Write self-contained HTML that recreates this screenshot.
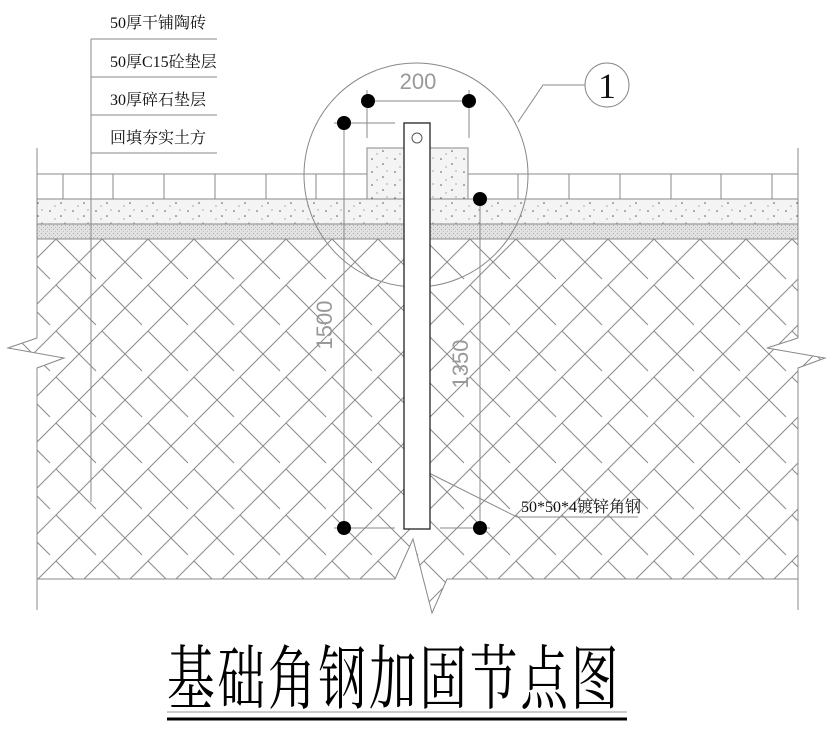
<!DOCTYPE html>
<html><head><meta charset="utf-8"><style>html,body{margin:0;padding:0;background:#fff}svg{display:block}</style></head>
<body>
<svg width="833" height="734" viewBox="0 0 833 734" xmlns="http://www.w3.org/2000/svg">
<defs>
<pattern id="h" width="46" height="46" patternUnits="userSpaceOnUse" patternTransform="translate(10,239)">
<path d="M0 46 L46 0 M-23 23 L23 -23 M23 69 L69 23" stroke="#8a8a8a" stroke-width="1" fill="none"/>
<path d="M0 0 L30 30 M23 -23 L46 0 M-23 23 L0 46 M23 23 L40 40" stroke="#8a8a8a" stroke-width="1" fill="none"/>
</pattern>
<pattern id="c" width="23" height="13" patternUnits="userSpaceOnUse">
<rect width="23" height="13" fill="#f4f4f4"/>
<circle cx="4" cy="3" r="0.8" fill="#555"/><circle cx="15" cy="8" r="0.8" fill="#555"/><circle cx="9" cy="11" r="0.6" fill="#777"/><circle cx="19" cy="2" r="0.6" fill="#777"/>
</pattern>
<pattern id="g" width="4" height="4" patternUnits="userSpaceOnUse">
<rect width="4" height="4" fill="#e2e2e2"/><rect x="1" y="1" width="1" height="1" fill="#aaa"/><rect x="3" y="3" width="1" height="1" fill="#bbb"/>
</pattern>
</defs>
<g stroke="#888" fill="none" stroke-width="1">
<polygon points="37,239 798,239 798,338 767,348 825,358 798,368 798,579 447,579 432,613 413,539 395,579 37,579 37,368 64,358 8,348 37,338" fill="url(#h)"/>
<rect x="37" y="199" width="761" height="25" fill="url(#c)"/>
<rect x="37" y="224" width="761" height="15" fill="url(#g)"/>
<line x1="37" y1="174" x2="367" y2="174"/><line x1="468" y1="174" x2="798" y2="174"/>
<line x1="37" y1="148" x2="37" y2="338"/><line x1="37" y1="368" x2="37" y2="610"/>
<line x1="798" y1="148" x2="798" y2="338"/><line x1="798" y1="368" x2="798" y2="610"/>
<path d="M63 174V199M113 174V199M164 174V199M215 174V199M266 174V199M316 174V199M518 174V199M569 174V199M620 174V199M671 174V199M721 174V199M772 174V199"/>
<rect x="367" y="148" width="101" height="51" fill="url(#c)"/>
<line x1="91" y1="39" x2="91" y2="502"/>
<path d="M91 39H217M91 77H217M91 115H217M91 153H217"/>
<circle cx="416" cy="175" r="112"/>
<polyline points="518,122 543,85 585,85"/>
<circle cx="607" cy="85" r="22"/>
<line x1="368" y1="101" x2="469" y2="101"/>
<line x1="367" y1="90" x2="367" y2="138"/><line x1="469" y1="90" x2="469" y2="138"/>
<line x1="334" y1="123" x2="395" y2="123"/>
<line x1="344" y1="123" x2="344" y2="528"/>
<line x1="334" y1="528" x2="395" y2="528"/>
<line x1="480" y1="199" x2="480" y2="528"/>
<line x1="440" y1="528" x2="490" y2="528"/>
<polyline points="413,465 517,517 638,517"/>
</g>
<rect x="404" y="123" width="26" height="406" fill="#fff" stroke="#222" stroke-width="1.3"/>
<circle cx="417" cy="138" r="5" fill="none" stroke="#555"/>
<g fill="#000">
<circle cx="368" cy="101" r="7"/><circle cx="469" cy="101" r="7"/><circle cx="344" cy="123" r="7"/><circle cx="480" cy="199" r="7"/><circle cx="344" cy="528" r="7"/><circle cx="480" cy="528" r="7"/>
</g>
<g font-family="Liberation Serif, Noto Serif CJK SC, serif" font-size="16" fill="#111">
<text x="110" y="28">50厚干铺陶砖</text>
<text x="110" y="67">50厚C15砼垫层</text>
<text x="110" y="105">30厚碎石垫层</text>
<text x="110" y="143">回填夯实土方</text>
<text x="521" y="512">50*50*4镀锌角钢</text>
</g>
<text x="607" y="98" text-anchor="middle" font-family="Liberation Serif, serif" font-size="36" fill="#111">1</text>
<g font-family="Liberation Sans, sans-serif" font-size="22" fill="#999" text-anchor="middle">
<text x="418" y="89">200</text>
<text transform="translate(332,325) rotate(-90)">1500</text>
<text transform="translate(468,364) rotate(-90)">1350</text>
</g>
<text transform="translate(167,703) scale(0.68,1)" font-family="Noto Serif CJK SC, serif" font-size="70" fill="#000" textLength="664" lengthAdjust="spacing">基础角钢加固节点图</text>
<line x1="167" y1="712" x2="627" y2="712" stroke="#999" stroke-width="1"/>
<line x1="167" y1="719" x2="627" y2="719" stroke="#000" stroke-width="3"/>
</svg>
</body></html>
